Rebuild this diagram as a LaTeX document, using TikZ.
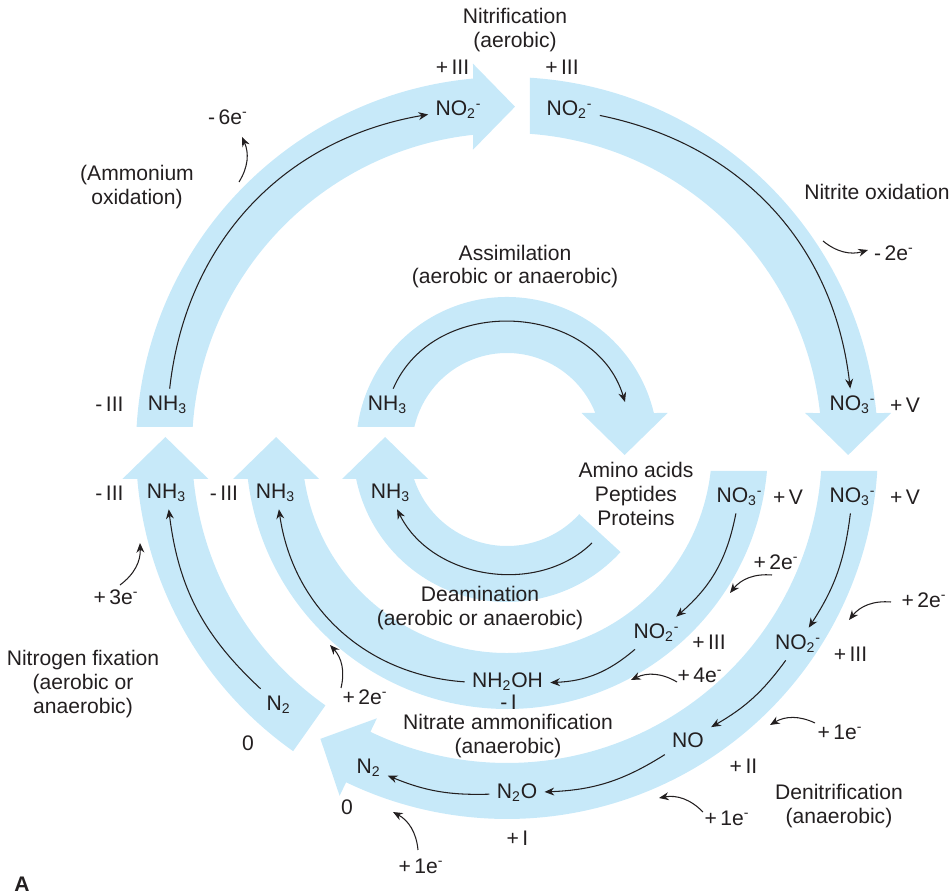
\documentclass[tikz,border=0pt]{standalone}
\usepackage{fontspec}
\setmainfont{Liberation Sans}
\usetikzlibrary{arrows.meta,calc}
\definecolor{ink}{RGB}{35,31,32}
\definecolor{sky}{RGB}{199,233,249}
\tikzset{
  >={Stealth[length=5.5pt,width=4.5pt]},
  band/.style={fill=sky},
  flow/.style={->,line width=0.6pt,draw=ink},
  eflow/.style={->,line width=0.6pt,draw=ink},
  species/.style={inner sep=4pt,text=ink},
  ox/.style={inner sep=0pt,text=ink},
  elec/.style={inner sep=1pt,text=ink},
  tag/.style={align=center,inner sep=0pt,text=ink},
}

\begin{document}
\begin{tikzpicture}[font=\fontsize{12}{13.5}\selectfont]
  \useasboundingbox (-10.14,-8.94) rectangle (8.88,8.96);
  % bands
  \fill[band] (176.755:7.42) arc[start angle=176.755,end angle=95.258,radius=7.42]
    -- (-0.68,7.686) -- (0.16,6.826) -- (-0.68,5.966)
    -- (96.197:6.30) arc[start angle=96.197,end angle=176.177,radius=6.30] -- cycle;
  \fill[band] (86.446:7.42) arc[start angle=86.446,end angle=5.413,radius=7.42]
    -- (7.684,0.70) -- (6.824,-0.14) -- (5.964,0.70)
    -- (6.379:6.30) arc[start angle=6.379,end angle=85.813,radius=6.30] -- cycle;
  \fill[band] (-3.554:7.42) arc[start angle=-3.554,end angle=-115.7,radius=7.42]
    -- (-115.7:7.72) -- ($(-115.7:6.86)+(154.3:0.84)$) -- (-115.7:6.00)
    -- (-115.7:6.30) arc[start angle=-115.7,end angle=-4.187,radius=6.30] -- cycle;
  \fill[band] (-125.2:7.42) arc[start angle=-125.2,end angle=-175.207,radius=7.42]
    -- (-7.692,-0.62) -- (-6.832,0.22) -- (-5.972,-0.62)
    -- (-174.352:6.30) arc[start angle=-174.352,end angle=-125.2,radius=6.30] -- cycle;
  \fill[band] (-5.056:5.22) arc[start angle=-5.056,end angle=-173.179,radius=5.22]
    -- (-5.478,-0.62) -- (-4.618,0.22) -- (-3.758,-0.62)
    -- (-171.302:4.10) arc[start angle=-171.302,end angle=-6.442,radius=4.10] -- cycle;
  \fill[band] (172.006:3.02) arc[start angle=172.006,end angle=13.402,radius=3.02]
    -- (3.212,0.70) -- (2.352,-0.14) -- (1.492,0.70)
    -- (21.620:1.90) arc[start angle=21.620,end angle=167.229,radius=1.90] -- cycle;
  \fill[band] (-42.5:3.08) arc[start angle=-42.5,end angle=-168.387,radius=3.08]
    -- (-3.298,-0.62) -- (-2.438,0.22) -- (-1.578,-0.62)
    -- (-161.558:1.96) arc[start angle=-161.558,end angle=-42.5,radius=1.96] -- cycle;

  % species
  \foreach \n/\x/\y/\t in {nh3L/-6.79/0.86/NH\textsubscript{3},
      no2TL/-0.97/6.76/NO\textsubscript{2}\textsuperscript{-},
      no2TR/1.25/6.76/NO\textsubscript{2}\textsuperscript{-},
      no3R/6.91/0.86/NO\textsubscript{3}\textsuperscript{-},
      nh3A/-2.39/0.86/NH\textsubscript{3},
      nh3F/-6.81/-0.90/NH\textsubscript{3},
      nh3M/-4.63/-0.90/NH\textsubscript{3},
      nh3D/-2.33/-0.90/NH\textsubscript{3},
      no3M/4.65/-0.98/NO\textsubscript{3}\textsuperscript{-},
      no3O/6.91/-0.98/NO\textsubscript{3}\textsuperscript{-},
      no2M/2.99/-3.70/NO\textsubscript{2}\textsuperscript{-},
      no2O/5.82/-3.92/NO\textsubscript{2}\textsuperscript{-},
      nh2oh/0.01/-4.68/NH\textsubscript{2}OH,
      no/3.62/-5.84/NO,
      n2o/0.20/-6.90/N\textsubscript{2}O,
      n2D/-2.77/-6.40/N\textsubscript{2},
      n2F/-4.57/-5.14/N\textsubscript{2}}
    \node[species] (\n) at (\x,\y) {\t};

  \foreach \x/\y/\t [count=\i] in {-1.09/7.62/+\,III, 1.10/7.62/+\,III,
      -7.95/0.88/-\,III, 7.96/0.86/+\,V, -7.95/-0.90/-\,III, -5.66/-0.90/-\,III,
      5.62/-0.98/+\,V, 7.96/-0.98/+\,V, 4.04/-3.88/+\,III, 6.87/-4.12/+\,III,
      0.03/-5.08/-\,I, 4.73/-6.36/+\,II, 0.21/-7.80/+\,I, -3.20/-7.18/0, -5.18/-5.90/0}
    \node[ox] (ox\i) at (\x,\y) {\t};

  % flows
  \foreach \a/\b/\c in {nh3L/no2TL/37, no2TR/no3R/36, n2F/nh3F/20, no3M/no2M/19,
      no2M/nh2oh/19, nh2oh/nh3M/39, no3O/no2O/13, no2O/no/12, no/n2o/15, n2o/n2D/12}
    \draw[flow] (\a) to[bend left=\c] (\b);
  \coordinate (asE) at (2.36,0.92);
  \draw[flow] (nh3A) to[bend left=70,looseness=1.15] (asE);
  \coordinate (deS) at (1.70,-1.90);
  \draw[flow] (deS) to[bend left=54] (nh3D);

  % electrons
  \foreach \n/\lx/\ly/\sx/\sy/\tx/\ty/\t in {
      m6/-5.58/6.62/-5.36/5.32/-5.30/6.22/-\,6e\textsuperscript{-},
      m2/7.74/3.90/6.32/4.14/7.22/3.96/-\,2e\textsuperscript{-},
      p3/-7.82/-2.98/-7.74/-2.74/-7.34/-1.90/+\,3e\textsuperscript{-},
      p2a/-2.84/-4.98/-3.32/-4.80/-3.54/-3.94/+\,2e\textsuperscript{-},
      p1a/-1.72/-8.36/-1.78/-8.04/-2.28/-7.28/+\,1e\textsuperscript{-},
      p2b/5.38/-2.28/5.30/-2.54/4.46/-2.90/+\,2e\textsuperscript{-},
      p4/3.86/-4.54/3.40/-4.68/2.48/-4.64/+\,4e\textsuperscript{-},
      p2c/8.34/-3.04/7.68/-3.08/6.84/-3.44/+\,2e\textsuperscript{-},
      p1b/6.66/-5.68/6.16/-5.50/5.26/-5.54/+\,1e\textsuperscript{-},
      p1c/4.40/-7.40/3.92/-7.28/3.04/-7.00/+\,1e\textsuperscript{-}}{
    \node[elec] (\n) at (\lx,\ly) {\t};
    \coordinate (\n-s) at (\sx,\sy);
    \coordinate (\n-t) at (\tx,\ty);
    \draw[eflow] (\n-s) to[bend right=28] (\n-t);
  }

  \node[tag] (nitrif) at (0.16,8.36) {Nitrification\\(aerobic)};
  \node[tag] (ammox) at (-7.40,5.22) {(Ammonium\\oxidation)};
  \node[tag] (nitox) at (7.40,5.12) {Nitrite oxidation};
  \node[tag] (assim) at (0.16,3.63) {Assimilation\\(aerobic or anaerobic)};
  \node[tag] (amino) at (2.58,-0.92) {Amino acids\\Peptides\\Proteins};
  \node[tag] (deam) at (-0.54,-3.20) {Deamination\\(aerobic or anaerobic)};
  \node[tag] (fix) at (-8.48,-4.72) {Nitrogen fixation\\(aerobic or\\anaerobic)};
  \node[tag] (amm) at (0.02,-5.76) {Nitrate ammonification\\(anaerobic)};
  \node[tag] (denit) at (6.64,-7.16) {Denitrification\\(anaerobic)};
  \node[text=ink,font=\fontsize{12}{13.5}\selectfont\bfseries] (panel) at (-9.70,-8.72) {A};
\end{tikzpicture}
\end{document}
